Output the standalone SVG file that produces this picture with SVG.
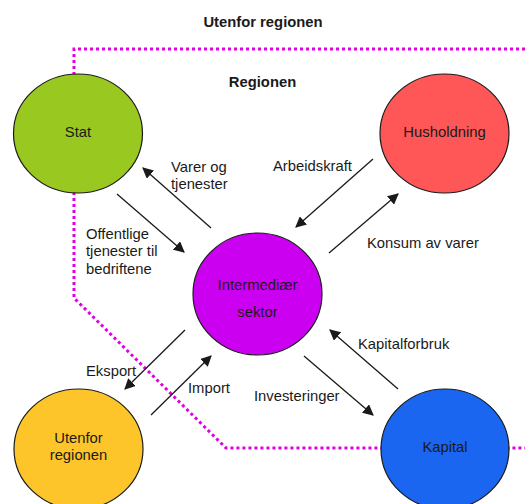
<svg xmlns="http://www.w3.org/2000/svg" width="525" height="504" viewBox="0 0 525 504">
<style>
text{font-family:"Liberation Sans",Arial,sans-serif;font-size:14.8px;fill:#1a1a1a}
.b{font-weight:bold}
.m{text-anchor:middle}
.node{stroke:#1a1a1a;stroke-width:1.2}
.arr{stroke:#1a1a1a;stroke-width:1.3;fill:none;marker-end:url(#ah)}
.border{fill:none;stroke:#e100e6;stroke-width:3;stroke-dasharray:3 3}
</style>
<defs>
<marker id="ah" viewBox="0 0 10 10" refX="9" refY="5" markerWidth="11" markerHeight="11" markerUnits="userSpaceOnUse" orient="auto">
<path d="M0,0 L10,5 L0,10 Z" fill="#1a1a1a"/>
</marker>
</defs>
<rect width="525" height="504" fill="#fff"/>
<text class="b m" x="263" y="27">Utenfor regionen</text>
<text class="b m" x="262.5" y="87">Regionen</text>
<polyline class="border" points="525,49 74,49 74,298 226,448 525,448"/>
<g id="connectors">
<line class="arr" x1="211" y1="228" x2="143" y2="168"/>
<line class="arr" x1="117" y1="194" x2="184" y2="252"/>
<line class="arr" x1="373" y1="159" x2="296" y2="227"/>
<line class="arr" x1="329" y1="253" x2="398" y2="194"/>
<line class="arr" x1="185" y1="330" x2="125" y2="389"/>
<line class="arr" x1="151" y1="415" x2="211" y2="356"/>
<line class="arr" x1="398" y1="389" x2="330" y2="330"/>
<line class="arr" x1="304" y1="356" x2="373" y2="415"/>
<text x="171" y="172">Varer og</text>
<text x="171" y="189">tjenester</text>
<text x="86" y="239">Offentlige</text>
<text x="86" y="256">tjenester til</text>
<text x="86" y="274">bedriftene</text>
<text x="273" y="171">Arbeidskraft</text>
<text x="367" y="248">Konsum av varer</text>
<text x="86" y="376">Eksport</text>
<text x="188" y="393">Import</text>
<text x="254" y="401">Investeringer</text>
<text x="358" y="349">Kapitalforbruk</text>
</g>
<g id="stat">
<ellipse class="node" cx="78" cy="133.5" rx="64.5" ry="59.5" fill="#99c820"/>
<text class="m" x="78" y="137">Stat</text>
</g>
<g id="husholdning">
<ellipse class="node" cx="444.5" cy="133.5" rx="64.5" ry="59.5" fill="#ff5757"/>
<text class="m" x="444.5" y="137">Husholdning</text>
</g>
<g id="intermediaer">
<ellipse class="node" cx="257.5" cy="294" rx="64.5" ry="61" fill="#cc00f0"/>
<text class="m" x="257.5" y="290">Intermediær</text>
<text class="m" x="257.5" y="317">sektor</text>
</g>
<g id="utenfor">
<ellipse class="node" cx="78.5" cy="449" rx="64.5" ry="60" fill="#fdc52a"/>
<text class="m" x="78.5" y="443">Utenfor</text>
<text class="m" x="78.5" y="460">regionen</text>
</g>
<g id="kapital">
<ellipse class="node" cx="445" cy="449" rx="64" ry="60" fill="#1a66f0"/>
<text class="m" x="445" y="452">Kapital</text>
</g>
</svg>
